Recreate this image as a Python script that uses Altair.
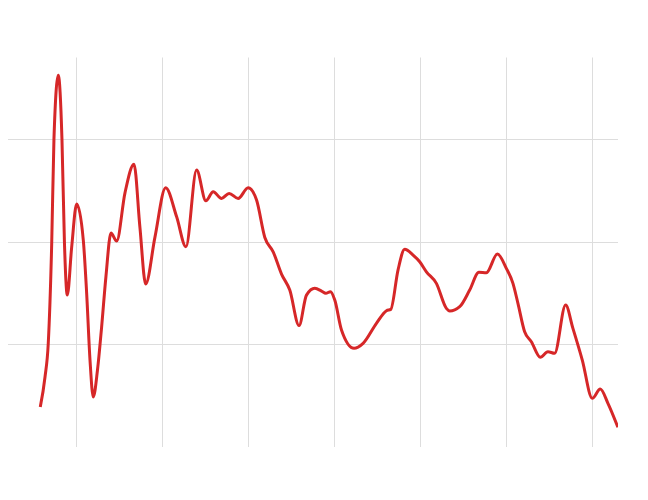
import altair as alt
import pandas as pd

t = [5.85, 6.40, 6.78, 7.18, 7.44, 7.94, 8.37, 8.66, 8.99, 9.50,
     10.08, 10.85, 11.24, 11.63, 12.01, 12.50, 12.98, 13.48, 14.07, 14.73,
     15.69, 16.74, 17.43, 18.10, 19.18, 20.42, 21.70, 22.78, 24.02, 25.10,
     25.95, 26.92, 27.80, 28.85, 30.01, 30.99, 31.95, 32.92, 33.89, 34.85,
     35.93, 36.79, 37.76, 38.54, 39.04, 39.58, 40.08, 40.86, 42.32, 43.37,
     44.92, 46.09, 46.59, 47.43, 48.21, 49.18, 49.95, 50.73, 51.89, 53.05,
     53.44, 54.60, 55.76, 56.84, 57.70, 58.98, 60.02, 60.79, 61.37, 62.15,
     62.93, 63.97, 64.86, 65.63, 66.91, 67.76, 68.85, 70.01, 70.94, 71.83,
     72.99]
value = [3.90, 6.82, 10.13, 19.87, 30.0, 36.23, 30.0, 19.87, 14.80, 19.48,
         23.67, 20.16, 15.0, 8.47, 4.87, 7.50, 11.69, 16.59, 20.84, 20.06,
         24.74, 27.56, 21.43, 15.88, 20.45, 25.26, 22.43, 19.51, 26.98, 23.99,
         24.87, 24.22, 24.71, 24.22, 25.26, 24.06, 20.42, 19.02, 16.85, 15.29,
         11.83, 14.80, 15.46, 15.19, 14.97, 15.13, 14.32, 11.40, 9.61, 10.10,
         12.05, 13.28, 13.41, 17.24, 19.26, 18.70, 18.05, 17.07, 15.94, 13.51,
         13.25, 13.67, 15.29, 17.02, 16.98, 18.80, 17.41, 15.94, 14.00, 11.23,
         10.26, 8.74, 9.28, 9.13, 13.83, 11.56, 8.47, 4.74, 5.65, 4.26,
         1.92]
x_ticks = [10, 20, 30, 40, 50, 60, 70]
y_ticks = [0, 10, 20, 30]

df = pd.DataFrame({"t": t, "value": value})

chart = (
    alt.Chart(df)
    .mark_line(color="#d62728", strokeWidth=3, interpolate="monotone")
    .encode(
        x=alt.X("t:Q", scale=alt.Scale(domain=[1.75, 73.0], nice=False, zero=False),
                axis=alt.Axis(values=x_ticks, labels=False, ticks=False, domain=False,
                              title=None, grid=True, gridColor="#dddddd")),
        y=alt.Y("value:Q", scale=alt.Scale(domain=[0, 38], nice=False),
                axis=alt.Axis(values=y_ticks, labels=False, ticks=False, domain=False,
                              title=None, grid=True, gridColor="#dddddd")),
    )
    .properties(width=613, height=390, autosize="none",
                padding={"left": -3, "top": 49, "right": 0, "bottom": 0})
    .configure_view(stroke=None)
)

chart.save("out.html", embed_options={"renderer": "svg", "actions": False})
